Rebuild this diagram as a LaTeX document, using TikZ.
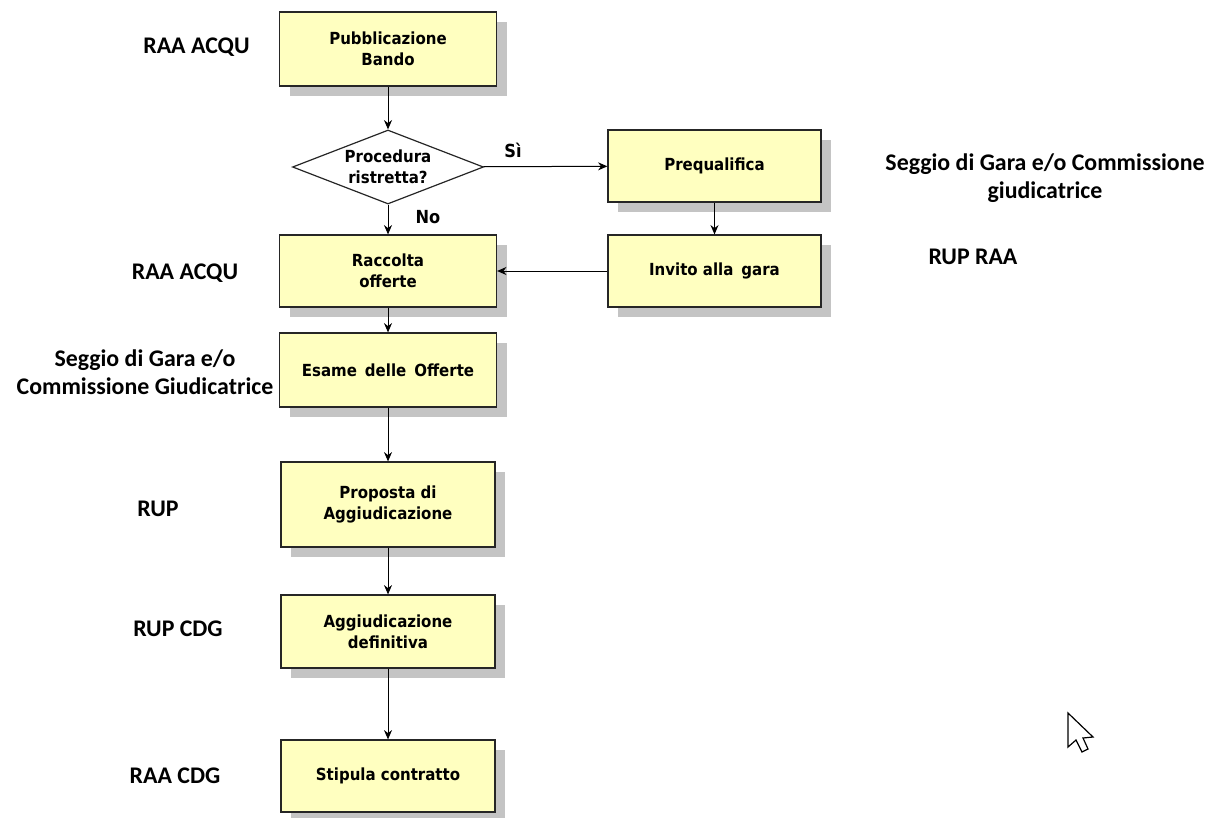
\documentclass[tikz,border=0pt]{standalone}
\usepackage{fontspec}
\setmainfont{DejaVu Sans Condensed}
\newfontfamily\rolefont{Carlito}
\usetikzlibrary{arrows.meta,shapes.geometric,shadows}
\definecolor{boxfill}{HTML}{FFFFC0}
\definecolor{shadowgray}{HTML}{C4C4C4}
\begin{document}
\begin{tikzpicture}[x=0.75pt,y=-0.75pt,
  stepbox/.style={draw=black!85,line width=0.9pt,fill=boxfill,align=center,
    font=\bfseries\fontsize{12.5}{16}\selectfont,inner sep=2pt,
    drop shadow={shadow xshift=7.5pt,shadow yshift=-7.5pt,fill=shadowgray,opacity=1}},
  decision/.style={diamond,draw=black!85,line width=0.9pt,fill=white,align=center,
    font=\bfseries\fontsize{12.5}{16}\selectfont,inner sep=0pt,aspect=2.6},
  role/.style={align=center,font=\rolefont\bfseries\fontsize{17.9}{21}\selectfont,inner sep=0pt},
  edgelbl/.style={font=\bfseries\fontsize{13.5}{15}\selectfont,inner sep=0pt},
  flow/.style={line width=0.75pt,-{Stealth[length=7pt,width=6pt]}}]
\useasboundingbox (0,0) rectangle (1212,817);
% boxes
\node[stepbox,minimum width=162.75pt,minimum height=55.5pt] (pub) at (388,49) {Pubblicazione\\Bando};
\node[decision,minimum width=143.25pt,minimum height=55.5pt] (dec) at (388,167) {Procedura\\ristretta?};
\node[stepbox,minimum width=159.75pt,minimum height=54pt] (pre) at (714.5,166) {Prequalifica};
\node[stepbox,minimum width=159.75pt,minimum height=54pt] (inv) at (714.5,271) {Invito alla\,  gara};
\node[stepbox,minimum width=162.75pt,minimum height=54pt] (rac) at (388,271) {Raccolta\\offerte};
\node[stepbox,minimum width=162.75pt,minimum height=55.5pt] (esa) at (388,370) {Esame\, delle\, Offerte};
\node[stepbox,minimum width=160.5pt,minimum height=63.75pt] (pro) at (388,504.5) {Proposta di\\Aggiudicazione};
\node[stepbox,minimum width=160.5pt,minimum height=54.75pt] (agg) at (388,631.5) {Aggiudicazione\\definitiva};
\node[stepbox,minimum width=160.5pt,minimum height=54pt] (sti) at (388,776) {Stipula contratto};
% connectors
\draw[flow] (pub) -- (dec);
\draw[flow] (dec) -- (rac);
\draw[flow] (dec) -- (pre);
\draw[flow] (pre) -- (inv);
\draw[flow] (inv) -- (rac);
\draw[flow] (rac) -- (esa);
\draw[flow] (esa) -- (pro);
\draw[flow] (pro) -- (agg);
\draw[flow] (agg) -- (sti);
% edge labels
\node[edgelbl] (si) at (513,150) {Sì};
\node[edgelbl] (no) at (428,217) {No};
% role labels
\node[role] (r1) at (196.5,47) {RAA ACQU};
\node[role] (r2) at (1045,178) {Seggio di Gara e/o Commissione\\giudicatrice};
\node[role] (r3) at (973,257) {RUP RAA};
\node[role] (r4) at (185,273) {RAA ACQU};
\node[role] (r5) at (145,372) {Seggio di Gara e/o\\Commissione Giudicatrice};
\node[role] (r6) at (158,509) {RUP};
\node[role] (r7) at (178,629) {RUP CDG};
\node[role] (r8) at (175,776) {RAA CDG};
% mouse cursor
\draw[line width=0.9pt,fill=white,line join=miter]
  (1068,713) -- (1068,747) -- (1076,740) -- (1082,752) -- (1088,749) -- (1083,738) -- (1093,737) -- cycle;
\end{tikzpicture}
\end{document}
